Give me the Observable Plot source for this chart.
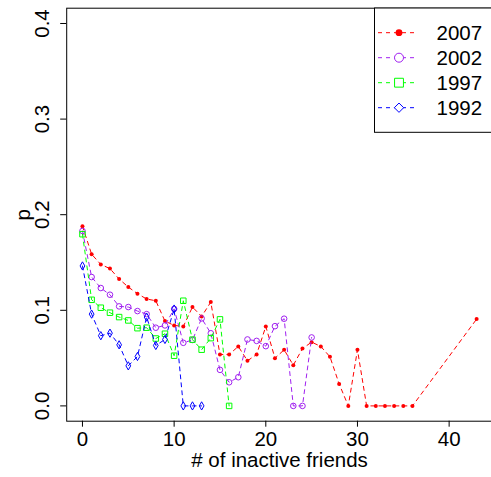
<!DOCTYPE html>
<html><head><meta charset="utf-8">
<script src="https://cdn.jsdelivr.net/npm/d3@7"></script>
<script src="https://cdn.jsdelivr.net/npm/@observablehq/plot@0.6"></script>
<style>
body{margin:0;background:#fff;font-family:"Liberation Sans",Arial,sans-serif}
#wrap{position:relative;width:491px;height:477px;overflow:hidden}
#legend{position:absolute;left:0;top:0;pointer-events:none}
</style></head><body><div id="wrap"></div>
<script>
// series labels and styles
const years = ["2007", "2002", "1997", "1992"];
const colors = ["#FF0000", "#A020F0", "#00FF00", "#0000FF"];
const symbols = ["circle", "circle", "square", "diamond"];

// x: # of inactive friends, p values per year
const x2007 = [0,1,2,3,4,5,6,7,8,9,10,11,12,13,14,15,16,17,18,19,20,21,22,23,24,25,26,27,28,29,30,31,32,33,34,35,36,43];
const p2007 = [0.188,0.1586,0.148,0.1436,0.1327,0.1243,0.1174,0.1118,0.110,0.0887,0.0842,0.0831,0.1034,0.0936,0.1086,0.0538,0.0538,0.0622,0.0472,0.0538,0.0831,0.0499,0.0587,0.0426,0.060,0.0667,0.0622,0.0514,0.023,0,0.0587,0,0,0,0,0,0,0.0908];

const x2002 = [0,1,2,3,4,5,6,7,8,9,10,11,12,13,14,15,16,17,18,19,20,21,22,23,24,25];
const p2002 = [0.183,0.1348,0.1233,0.1163,0.1041,0.1034,0.0992,0.096,0.0818,0.0842,0.1015,0.066,0.069,0.0915,0.076,0.0377,0.0247,0.030,0.0695,0.068,0.0625,0.0834,0.0912,0,0,0.0716];

const x1997 = [0,1,2,3,4,5,6,7,8,9,10,11,12,13,14,15,16];
const p1997 = [0.1796,0.111,0.1027,0.0975,0.0929,0.0894,0.0813,0.0818,0.0705,0.0755,0.0525,0.110,0.0693,0.0588,0.0709,0.0905,0];

const x1992 = [0,1,2,3,4,5,6,7,8,9,10,11,12,13];
const p1992 = [0.1464,0.096,0.0734,0.0761,0.0639,0.0419,0.0517,0.0929,0.0632,0.0695,0.1013,0,0,0];

const xTicks = [0, 10, 20, 30, 40];
const yTicks = [0, 0.1, 0.2, 0.3, 0.4];

const seriesX = [x2007, x2002, x1997, x1992];
const seriesP = [p2007, p2002, p1997, p1992];
const series = years.map((year, i) => seriesX[i].map((x, j) => ({year, x, p: seriesP[i][j]})));

const dotR = [2, 2.8, 3.1, 2.5];
const marks = [];
series.forEach((data, i) => {
  marks.push(Plot.line(data, {x: "x", y: "p", stroke: colors[i], strokeWidth: 1, strokeDasharray: "4,4"}));
  if (i === 0) {
    marks.push(Plot.dot(data, {x: "x", y: "p", r: dotR[i], fill: colors[i], stroke: "none", symbol: symbols[i]}));
  } else {
    marks.push(Plot.dot(data, {x: "x", y: "p", r: dotR[i], fill: "none", stroke: colors[i], strokeWidth: 1, symbol: symbols[i]}));
  }
});

const chart = Plot.plot({
  width: 491,
  height: 477,
  marginLeft: 66.2,
  marginRight: -0.9,
  marginTop: 7.7,
  marginBottom: 56.3,
  style: {fontFamily: '"Liberation Sans", Arial, sans-serif', fontSize: "20.5px", background: "#fff", color: "#000"},
  x: {domain: [-1.72, 44.72]},
  y: {domain: [-0.016, 0.416]},
  marks: [
    Plot.frame({stroke: "#000", strokeWidth: 1}),
    Plot.axisX({ticks: xTicks, tickSize: 6, tickPadding: 4, tickFormat: d => String(d), label: "# of inactive friends", labelAnchor: "center", labelOffset: 46, labelArrow: "none"}),
    Plot.axisY({ticks: yTicks, tickSize: 6, tickPadding: 11.7, tickRotate: -90, tickFormat: d3.format(".1f"), label: "p", labelAnchor: "center", labelOffset: 51, labelArrow: "none"}),
    ...marks
  ]
});
document.getElementById("wrap").appendChild(chart);

// legend overlay (top-right, inside plot area)
const leg = d3.select("#wrap").append("svg").attr("id", "legend").attr("width", 491).attr("height", 477);
leg.append("rect").attr("x", 374.5).attr("y", 8).attr("width", 130).attr("height", 124.3)
  .attr("fill", "#fff").attr("stroke", "#000").attr("stroke-width", 1);
const rowY = [32.7, 57.7, 82.7, 107.7];
const legR = [3.4, 4.5, 5, 4.2];
years.forEach((year, i) => {
  const g = leg.append("g");
  g.append("line").attr("x1", 378).attr("x2", 418).attr("y1", rowY[i]).attr("y2", rowY[i])
    .attr("stroke", colors[i]).attr("stroke-dasharray", "4,4");
  const sym = i === 0 ? d3.symbolCircle : i === 1 ? d3.symbolCircle : i === 2 ? d3.symbolSquare : d3.symbolDiamond2;
  g.append("path").attr("transform", `translate(399,${rowY[i]})`)
    .attr("d", d3.symbol(sym, Math.PI * legR[i] * legR[i])())
    .attr("fill", i === 0 ? colors[i] : "#fff").attr("stroke", i === 0 ? "none" : colors[i]).attr("stroke-width", 1);
  g.append("text").attr("x", 436.5).attr("y", rowY[i]).attr("dy", "0.36em")
    .attr("font-family", '"Liberation Sans", Arial, sans-serif').attr("font-size", "20.5px").attr("fill", "#000").text(year);
});
</script>
</body></html>
